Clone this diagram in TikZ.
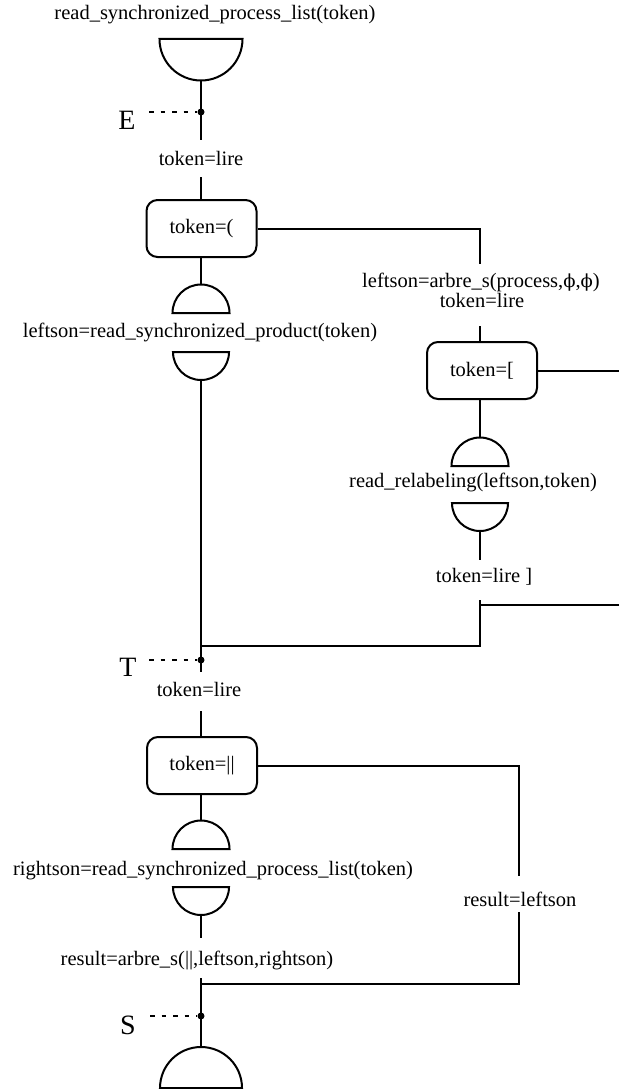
\documentclass[tikz,border=0pt]{standalone}
\usepackage{fontspec}
\setmainfont{Liberation Serif}
\newfontfamily\phifont{DejaVu Serif}
\usetikzlibrary{calc}

\begin{document}
\begin{tikzpicture}[x=1pt,y=-1pt,
  line/.style={line width=2pt},
  lbl/.style={font=\fontsize{20.5}{23}\selectfont, inner sep=0pt},
  big/.style={font=\fontsize{28}{30}\selectfont, inner sep=0pt},
  test/.style={draw, line width=2pt, rounded corners=11pt, minimum width=110pt,
    minimum height=57pt, inner sep=0pt, font=\fontsize{20.5}{23}\selectfont},
  guide/.style={line width=1.5pt, dash pattern=on 4.5pt off 7pt},
  dot/.style={circle, fill, inner sep=0pt, minimum size=7pt},
  dome/.pic={\draw[line] (-#1,0) -- (#1,0) arc[start angle=0,end angle=-180,radius=#1] -- cycle;},
  bowl/.pic={\draw[line] (-#1,0) -- (#1,0) arc[start angle=0,end angle=180,radius=#1] -- cycle;},
]
\useasboundingbox (0,0) rectangle (619,1089);

% ---- entry: call and point E
\node[lbl] (head) at (215,15) {read\_synchronized\_process\_list(token)};
\pic at (201,39) {bowl=41.5};
\coordinate (b0) at (201,80.5);
\node[dot] (e) at (201,112) {};
\node[big] (E) at (127,120) {E};
\coordinate (eg) at (149,112);
\coordinate (l0) at (201,140);
\node[lbl] (t0) at (201,158) {token=lire};
\coordinate (l1) at (201,177);
\draw[line] (b0) -- (l0);
\draw[guide] (eg) -- (e);
\draw[line] (l1) -- (l1 |- 0,200);

% ---- test token=(
\node[test] (q1) at (201.5,228.5) {token=(};
\coordinate (c1) at (480,264);
\draw[line] (q1.east) -| (c1);

% ---- right branch: relabeling
\node[lbl] (a1) at (481,282) {leftson=arbre\_s(process,{\phifont\fontsize{18}{20}\selectfont ϕ},{\phifont\fontsize{18}{20}\selectfont ϕ})};
\node[lbl] (t1) at (482,300) {token=lire};
\coordinate (c2) at (480,326);
\node[test] (q2) at (482,370.5) {token=[};
\draw[line] (c2) -- (c2 |- q2.north);
\coordinate (r1) at (619,370.5);
\draw[line] (q2.east) -- (r1);
\coordinate (d2) at (480,437.5);
\draw[line] (d2 |- q2.south) -- (d2);
\pic at (480,466) {dome=28.5};
\node[lbl] (rr) at (473,482) {read\_relabeling(leftson,token)};
\pic at (480,503) {bowl=28};
\coordinate (b2) at (480,531);
\coordinate (b2e) at (480,560);
\draw[line] (b2) -- (b2e);
\node[lbl] (t2) at (484,577) {token=lire ]};
\coordinate (j1) at (480,600);
\coordinate (j2) at (480,646);
\coordinate (r2) at (619,605);
\draw[line] (j1) -- (j2) -- (j2 -| 201,0);
\draw[line] (r2) -- (r2 -| j1);

% ---- left branch: synchronized product
\coordinate (d1) at (201,284.5);
\draw[line] (d1 |- q1.south) -- (d1);
\pic at (201,313) {dome=28.5};
\node[lbl] (sp) at (200,332) {leftson=read\_synchronized\_product(token)};
\pic at (201,352) {bowl=28};
\coordinate (b1) at (201,380);
\coordinate (l2) at (201,672);
\draw[line] (b1) -- (l2);

% ---- point T
\node[dot] (tp) at (201,660) {};
\node[big] (T) at (128,667) {T};
\coordinate (tg) at (149,660);
\draw[guide] (tg) -- (tp);
\node[lbl] (t3) at (199,689) {token=lire};
\coordinate (l3) at (201,711);

% ---- test token=||
\node[test] (q3) at (202,765.5) {token=||};
\draw[line] (l3) -- (l3 |- q3.north);
\coordinate (c3) at (519,876);
\draw[line] (q3.east) -| (c3);
\node[lbl] (rl) at (520,899) {result=leftson};
\coordinate (c4) at (519,912);
\coordinate (c5) at (519,984);
\draw[line] (c4) -- (c5) -- (c5 -| 201,0);
\coordinate (d3) at (201,820.5);
\draw[line] (d3 |- q3.south) -- (d3);
\pic at (201,849) {dome=28.5};
\node[lbl] (rs) at (213,871) {rightson=read\_synchronized\_process\_list(token)};
\pic at (201,887) {bowl=28};
\coordinate (b3) at (201,915);
\coordinate (b3e) at (201,938);
\draw[line] (b3) -- (b3e);
\node[lbl] (ra) at (197,960) {result=arbre\_s(||,leftson,rightson)};
\coordinate (l4) at (201,978);
\coordinate (l5) at (201,1047);
\draw[line] (l4) -- (l5);

% ---- exit point S
\node[dot] (sp2) at (201,1016) {};
\node[big] (S) at (128,1025) {S};
\coordinate (sg) at (150,1016);
\draw[guide] (sg) -- (sp2);
\pic at (201,1088) {dome=41};
\end{tikzpicture}
\end{document}
